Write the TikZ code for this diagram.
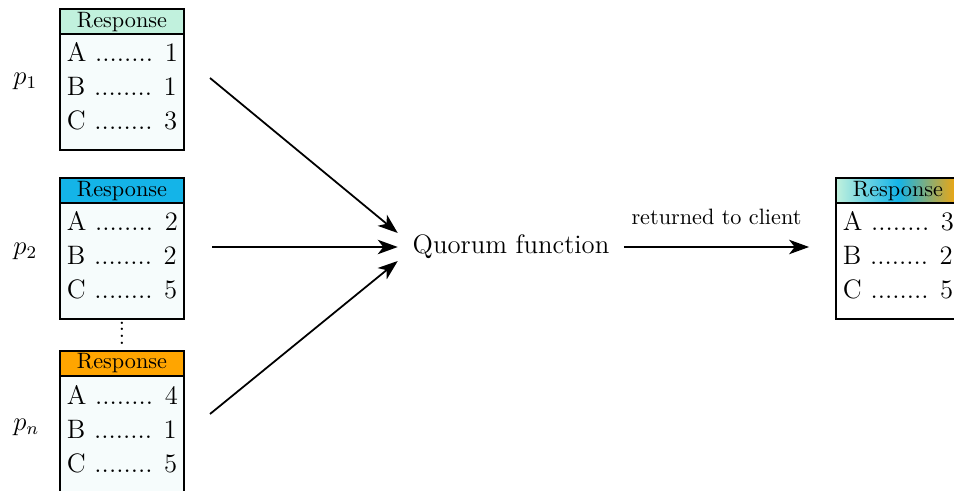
\documentclass[tikz,border=0pt]{standalone}
\usetikzlibrary{arrows.meta,fit}
\definecolor{mintc}{RGB}{193,241,221}
\definecolor{skyc}{RGB}{20,180,232}
\definecolor{orangec}{RGB}{255,165,0}
\definecolor{bodyc}{RGB}{246,252,252}
\pgfdeclarehorizontalshading{respshade}{100bp}{color(0bp)=(mintc); color(25bp)=(mintc); color(50bp)=(skyc); color(75bp)=(orangec); color(100bp)=(orangec)}
\begin{document}
\begin{tikzpicture}[x=0.45pt,y=-0.45pt,
 hdr/.style={draw,line width=0.8pt,minimum width=55.8pt,minimum height=11.25pt,inner sep=0pt,anchor=north},
 bodybox/.style={draw,line width=0.8pt,fill=bodyc,minimum width=55.8pt,minimum height=52pt,inner sep=0pt,anchor=north},
 rowtxt/.style={inner sep=0pt,anchor=base west,font=\large},
 plabel/.style={inner sep=0pt,anchor=base west,font=\large},
 conn/.style={line width=0.8pt,-{Stealth[length=9pt,width=6.5pt,inset=2.5pt]}}
]
\useasboundingbox (0,0) rectangle (954,491);
% table 1
\node[bodybox] (b1) at (122,33.5) {};
\node[hdr,fill=mintc] (h1) at (122,8.5) {Response};
\node[rowtxt] (r1a) at (66.5,62) {A ........ 1};
\node[rowtxt] (r1b) at (66.5,96) {B ........ 1};
\node[rowtxt] (r1c) at (66.5,130) {C ........ 3};
% table 2
\node[bodybox] (b2) at (122,202.5) {};
\node[hdr,fill=skyc] (h2) at (122,177.5) {Response};
\node[rowtxt] (r2a) at (66.5,231) {A ........ 2};
\node[rowtxt] (r2b) at (66.5,265) {B ........ 2};
\node[rowtxt] (r2c) at (66.5,299) {C ........ 5};
% dots
\node[inner sep=0pt] (vd) at (122,333) {\vbox{\baselineskip=3pt\lineskiplimit=0pt\hbox{.}\hbox{.}\hbox{.}\hbox{.}}};
% table 3
\node[bodybox,minimum height=54pt] (b3) at (122,375) {};
\node[hdr,fill=orangec] (h3) at (122,350) {Response};
\node[rowtxt] (r3a) at (66.5,404) {A ........ 4};
\node[rowtxt] (r3b) at (66.5,438) {B ........ 1};
\node[rowtxt] (r3c) at (66.5,472) {C ........ 5};
% labels
\node[plabel] (p1) at (13,85) {$p_1$};
\node[plabel] (p2) at (13,255) {$p_2$};
\node[plabel] (pn) at (13,430) {$p_n$};
% quorum
\node[font=\large] (Q) at (511,247) {Quorum function};
% result table
\node[bodybox,fill=white] (b4) at (898,202.5) {};
\node[hdr,shading=respshade] (h4) at (898,177.5) {Response};
\node[rowtxt] (r4a) at (842.5,231) {A ........ 3};
\node[rowtxt] (r4b) at (842.5,265) {B ........ 2};
\node[rowtxt] (r4c) at (842.5,299) {C ........ 5};
% connectors
\coordinate (s1) at (210,78);
\coordinate (s2) at (212,247);
\coordinate (s3) at (210,414);
\draw[conn] (s1) -- ([xshift=-3.2pt,yshift=6.3pt]Q.west);
\draw[conn] (s2) -- ([xshift=-3.2pt]Q.west);
\draw[conn] (s3) -- ([xshift=-3.2pt,yshift=-6.3pt]Q.west);
\path (Q.east -| b4.west) coordinate (e4m);
\draw[conn] ([xshift=3pt]Q.east) -- node[above=6.5pt] (lbl) {returned to client} ([xshift=-11.7pt]e4m);
\end{tikzpicture}
\end{document}
